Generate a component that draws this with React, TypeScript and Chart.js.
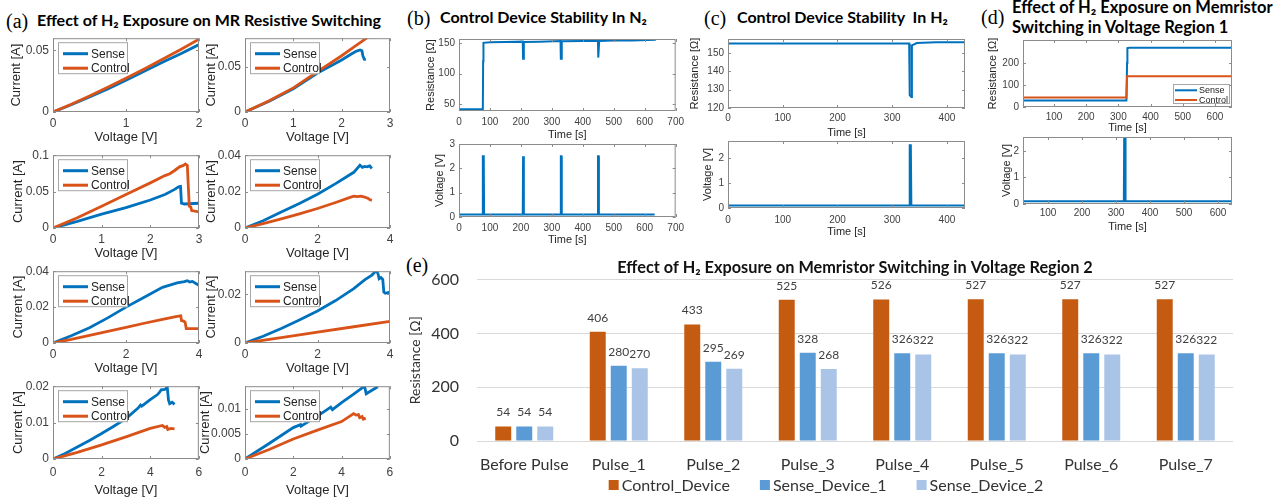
import React, { useEffect, useRef } from "react";
import { Chart, registerables } from "chart.js";

Chart.register(...registerables);

const BLUE = "#0072BD";
const ORANGE = "#D95319";
const AXIS = "#8c8c8c";
const TICK_TXT = "#404040";
const LABEL_TXT = "#262626";
const SANS = '"Liberation Sans", Arial, sans-serif';
const CAL = 'Lato, "DejaVu Sans", sans-serif';

Chart.defaults.font.family = SANS;

type Pt = [number, number];

// ---------------- (a) I-V sweeps ----------------
const a1Sense: Pt[] = [[0, 0], [0.25, 0.0059], [0.5, 0.0122], [0.75, 0.0188], [1, 0.0258], [1.25, 0.0331], [1.5, 0.0405], [1.75, 0.0474], [2, 0.0548]];
const a1Control: Pt[] = [[0, 0], [0.25, 0.0063], [0.5, 0.013], [0.75, 0.0201], [1, 0.0275], [1.25, 0.035], [1.5, 0.0428], [1.75, 0.0508], [2, 0.0592]];
const a2Sense: Pt[] = [[0, 0], [0.5, 0.012], [1, 0.0258], [1.5, 0.0432], [2, 0.0578], [2.2, 0.0645], [2.3, 0.0675], [2.38, 0.069], [2.42, 0.068], [2.44, 0.062], [2.47, 0.0585], [2.5, 0.0585]];
const a2Control: Pt[] = [[0, 0], [0.5, 0.0125], [1, 0.0268], [1.5, 0.0448], [2, 0.0625], [2.25, 0.072], [2.5, 0.0815], [2.55, 0.0835]];
const a3Sense: Pt[] = [[0, 0], [0.5, 0.009], [1, 0.019], [1.5, 0.028], [2, 0.0385], [2.3, 0.046], [2.5, 0.053], [2.58, 0.0565], [2.62, 0.057], [2.64, 0.034], [2.7, 0.033], [3, 0.034]];
const a3Control: Pt[] = [[0, 0], [0.5, 0.014], [1, 0.03], [1.5, 0.046], [2, 0.062], [2.3, 0.072], [2.4, 0.0745], [2.5, 0.079], [2.6, 0.084], [2.68, 0.086], [2.72, 0.088], [2.76, 0.086], [2.8, 0.03], [2.83, 0.029], [2.85, 0.024], [3, 0.022]];
const a4Sense: Pt[] = [[0, 0], [0.5, 0.004], [1, 0.0088], [1.5, 0.0135], [2, 0.0186], [2.5, 0.0244], [3, 0.0306], [3.17, 0.0345], [3.24, 0.0333], [3.3, 0.0338], [3.36, 0.0336], [3.44, 0.0341], [3.5, 0.0327]];
const a4Control: Pt[] = [[0, 0], [0.5, 0.0024], [1, 0.005], [1.5, 0.0078], [2, 0.0107], [2.5, 0.014], [2.9, 0.0168], [3.0, 0.0175], [3.1, 0.0172], [3.2, 0.0175], [3.3, 0.017], [3.4, 0.0162], [3.45, 0.0155], [3.5, 0.0152]];
const a5Sense: Pt[] = [[0, 0], [0.5, 0.004], [1, 0.0085], [1.5, 0.014], [2, 0.02], [2.5, 0.0255], [3, 0.031], [3.4, 0.0335], [3.6, 0.0342], [3.68, 0.0347], [3.75, 0.034], [3.82, 0.0343], [3.9, 0.0333], [4, 0.0322]];
const a5Control: Pt[] = [[0, 0], [0.5, 0.002], [1, 0.0043], [1.5, 0.0065], [2, 0.0087], [2.5, 0.011], [3, 0.0132], [3.4, 0.0148], [3.5, 0.0151], [3.52, 0.0125], [3.58, 0.0122], [3.62, 0.0115], [3.65, 0.008], [3.75, 0.008], [4, 0.008]];
const a6Sense: Pt[] = [[0, 0], [0.5, 0.0028], [1, 0.006], [1.5, 0.0095], [2, 0.0132], [2.5, 0.0175], [3, 0.0224], [3.3, 0.026], [3.5, 0.028], [3.58, 0.0292], [3.63, 0.0297], [3.67, 0.0285], [3.7, 0.0265], [3.75, 0.027], [3.8, 0.0262], [3.83, 0.021], [3.87, 0.0205], [4, 0.021]];
const a6Control: Pt[] = [[0, 0], [1, 0.0022], [2, 0.0045], [3, 0.0067], [4, 0.0089]];
const a7Sense: Pt[] = [[0, 0], [0.5, 0.0015], [1, 0.0033], [1.5, 0.0051], [2, 0.007], [2.5, 0.009], [3, 0.0111], [3.5, 0.014], [3.6, 0.0148], [3.65, 0.0145], [4, 0.0163], [4.3, 0.0177], [4.4, 0.0185], [4.45, 0.019], [4.6, 0.0191], [4.7, 0.0197], [4.75, 0.0162], [4.8, 0.0152], [4.9, 0.0156], [5.0, 0.015]];
const a7Control: Pt[] = [[0, 0], [1, 0.0018], [2, 0.0039], [3, 0.0061], [4, 0.0084], [4.5, 0.0092], [4.6, 0.0087], [4.68, 0.0089], [4.72, 0.0081], [4.85, 0.0084], [5, 0.0083]];
const a8Sense: Pt[] = [[0, 0], [1, 0.0031], [2, 0.0063], [2.3, 0.0069], [2.32, 0.0066], [3, 0.0086], [3.55, 0.0104], [3.62, 0.0099], [4, 0.0113], [4.5, 0.013], [4.95, 0.0146], [5.02, 0.0131], [5.5, 0.0145]];
const a8Control: Pt[] = [[0, 0], [1, 0.0019], [2, 0.004], [3, 0.0058], [4, 0.0075], [4.5, 0.0091], [4.6, 0.0088], [4.7, 0.0089], [4.75, 0.0083], [4.85, 0.0085], [4.9, 0.008], [5, 0.0082]];

const aXTicks2 = [0, 1, 2];
const aXTicks3 = [0, 1, 2, 3];
const aXTicks4 = [0, 2, 4];
const aXTicks6 = [0, 2, 4, 6];
const a1YTicks = [0, 0.05];
const a3YTicks = [0, 0.05, 0.1];
const a4YTicks = [0, 0.02, 0.04];
const a6YTicks = [0, 0.02];
const a7YTicks = [0, 0.01, 0.02];
const a8YTicks = [0, 0.005, 0.01];

// ---------------- (b) control device in N2 ----------------
const bResistance: Pt[] = [[0, 42], [76, 42], [77, 41], [78, 120], [79, 150], [100, 151], [150, 151.5], [206, 152], [207, 124], [209, 124], [210, 151.5], [260, 152], [328, 153], [329, 124], [331, 124], [332, 152.5], [400, 153], [449, 153], [450, 126], [452, 126], [453, 153], [500, 154], [560, 154], [636, 155]];
const bVoltage: Pt[] = [[0, 0.1], [76, 0.1], [77, 2.5], [80, 2.5], [81, 0.1], [206, 0.1], [207, 2.5], [209, 2.5], [210, 0.1], [328, 0.1], [329, 2.5], [331, 2.5], [332, 0.1], [448, 0.1], [449, 2.5], [451, 2.5], [452, 0.1], [632, 0.1]];
const bXTicks = [0, 100, 200, 300, 400, 500, 600, 700];
const bRYTicks = [50, 100, 150];
const bVYTicks = [0, 1, 2, 3];

// ---------------- (c) control device in H2 ----------------
const cResistance: Pt[] = [[0, 155], [331, 155], [332, 127], [335, 126], [336, 154], [345, 155.3], [380, 155.8], [433, 155.8]];
const cVoltage: Pt[] = [[0, 0.1], [331, 0.1], [332, 2.5], [334, 2.5], [335, 0.1], [433, 0.1]];
const cXTicks = [0, 100, 200, 300, 400];
const cRYTicks = [120, 130, 140, 150];
const cVYTicks = [0, 1, 2];

// ---------------- (d) voltage region 1 ----------------
const dSense: Pt[] = [[3, 30], [325, 30], [327, 200], [328, 268], [335, 270], [652, 270]];
const dControl: Pt[] = [[3, 43], [325, 43], [327, 140], [652, 140]];
const dVoltage: Pt[] = [[26, 0.1], [323, 0.1], [324, 2.52], [327, 2.52], [328, 0.1], [640, 0.1]];
const dXTicks = [100, 200, 300, 400, 500, 600];
const dRYTicks = [0, 100, 200];
const dVYTicks = [0, 1, 2];

// ---------------- (e) voltage region 2 bars ----------------
const eCategories = ["Before Pulse", "Pulse_1", "Pulse_2", "Pulse_3", "Pulse_4", "Pulse_5", "Pulse_6", "Pulse_7"];
const eControl = [54, 406, 433, 525, 526, 527, 527, 527];
const eSense1 = [54, 280, 295, 328, 326, 326, 326, 326];
const eSense2 = [54, 270, 269, 268, 322, 322, 322, 322];
const eYTicks = [0, 200, 400, 600];

// ---------------- small MATLAB-style charts ----------------
interface Series { label: string; data: Pt[]; color: string; }
interface LegendSpec { right?: boolean; dx: number; dy: number; w: number; h: number; rows: number[]; l0: number; l1: number; tx: number; font: number; lw: number; }
interface Spec {
  box: [number, number, number, number];
  x: [number, number]; y: [number, number];
  xTicks: number[]; yTicks: number[];
  xTitle: string; yTitle: string;
  tickFont: number; titleFont: number;
  yTitleOff: number; xTickOff: number; xTitleOff: number; yTickGap: number;
  lw: number;
  series: Series[];
  legend?: LegendSpec;
}

const TOPM = 8;
const RIGHTM = 10;

const matlabAxes = {
  id: "matlabAxes",
  afterDatasetsDraw(chart: any, _args: any, opts: any) {
    const { ctx, chartArea: a } = chart;
    const xs = chart.scales.x;
    const ys = chart.scales.y;
    ctx.save();
    ctx.strokeStyle = AXIS;
    ctx.lineWidth = 1;
    ctx.strokeRect(a.left + 0.5, a.top + 0.5, a.right - a.left - 1, a.bottom - a.top - 1);
    const tl = 3;
    ctx.beginPath();
    xs.ticks.forEach((t: any) => {
      const px = Math.round(xs.getPixelForValue(t.value)) + 0.5;
      ctx.moveTo(px, a.bottom); ctx.lineTo(px, a.bottom - tl);
      ctx.moveTo(px, a.top); ctx.lineTo(px, a.top + tl);
    });
    ys.ticks.forEach((t: any) => {
      const py = Math.round(ys.getPixelForValue(t.value)) + 0.5;
      ctx.moveTo(a.left, py); ctx.lineTo(a.left + tl, py);
      ctx.moveTo(a.right, py); ctx.lineTo(a.right - tl, py);
    });
    ctx.stroke();
    const lg: LegendSpec | undefined = opts && opts.legend;
    if (lg) {
      const bx = lg.right ? a.right - lg.dx - lg.w : a.left + lg.dx;
      const by = a.top + lg.dy;
      ctx.fillStyle = "#ffffff";
      ctx.fillRect(bx, by, lg.w, lg.h);
      ctx.strokeStyle = "#a6a6a6";
      ctx.strokeRect(bx + 0.5, by + 0.5, lg.w - 1, lg.h - 1);
      chart.data.datasets.forEach((ds: any, i: number) => {
        const y = by + lg.rows[i];
        ctx.strokeStyle = ds.borderColor;
        ctx.lineWidth = lg.lw;
        ctx.beginPath();
        ctx.moveTo(bx + lg.l0, y);
        ctx.lineTo(bx + lg.l1, y);
        ctx.stroke();
        ctx.fillStyle = "#222";
        ctx.font = `${lg.font}px ${SANS}`;
        ctx.textBaseline = "middle";
        ctx.textAlign = "left";
        ctx.fillText(ds.label, bx + lg.tx, y + 0.5);
      });
    }
    ctx.restore();
  },
};

function geometry(spec: Spec) {
  const lhT = spec.titleFont * 1.2;
  const lhK = spec.tickFont * 1.2;
  const yAxisW = Math.ceil(spec.yTitleOff + lhT / 2 + 1);
  const xAxisH = Math.ceil(spec.xTitleOff + lhT / 2 + 1);
  const [L, T, W, H] = spec.box;
  return {
    yAxisW, xAxisH,
    left: L - yAxisW, top: T - TOPM,
    w: yAxisW + W + RIGHTM, h: TOPM + H + xAxisH,
    yTitlePad: yAxisW - spec.yTitleOff - lhT / 2,
    xTitlePad: xAxisH - spec.xTitleOff - lhT / 2,
    xTickPad: spec.xTickOff - lhK / 2,
  };
}

function SmallChart({ spec }: { spec: Spec }) {
  const ref = useRef<HTMLCanvasElement>(null);
  const g = geometry(spec);
  useEffect(() => {
    const tickFont = { size: spec.tickFont, family: SANS };
    const titleFont = { size: spec.titleFont, family: SANS };
    const chart = new Chart(ref.current as HTMLCanvasElement, {
      type: "line",
      data: {
        datasets: spec.series.map((s, i) => ({
          label: s.label,
          data: s.data.map(([x, y]) => ({ x, y })),
          borderColor: s.color,
          backgroundColor: s.color,
          borderWidth: spec.lw,
          pointRadius: 0,
          tension: 0,
          fill: false,
          clip: 0,
          order: spec.series.length - i,
        })),
      },
      options: {
        responsive: false,
        animation: false,
        events: [],
        layout: { padding: { left: 0, top: TOPM, right: RIGHTM, bottom: 0 } },
        plugins: {
          legend: { display: false },
          tooltip: { enabled: false },
          matlabAxes: { legend: spec.legend },
        } as any,
        scales: {
          x: {
            type: "linear",
            min: spec.x[0],
            max: spec.x[1],
            afterBuildTicks: (s: any) => { s.ticks = spec.xTicks.map((v) => ({ value: v })); },
            afterFit: (s: any) => { s.height = g.xAxisH; },
            grid: { display: false, drawTicks: false },
            border: { display: false },
            ticks: { autoSkip: false, maxRotation: 0, padding: g.xTickPad, font: tickFont, color: TICK_TXT, callback: (v: any) => String(v) },
            title: { display: true, text: spec.xTitle, color: LABEL_TXT, font: titleFont, padding: { top: 0, bottom: g.xTitlePad } },
          },
          y: {
            type: "linear",
            min: spec.y[0],
            max: spec.y[1],
            afterBuildTicks: (s: any) => { s.ticks = spec.yTicks.map((v) => ({ value: v })); },
            afterFit: (s: any) => { s.width = g.yAxisW; },
            grid: { display: false, drawTicks: false },
            border: { display: false },
            ticks: { autoSkip: false, padding: spec.yTickGap, font: tickFont, color: TICK_TXT, callback: (v: any) => String(v) },
            title: { display: true, text: spec.yTitle, color: LABEL_TXT, font: titleFont, padding: { top: g.yTitlePad, bottom: 0 } },
          },
        },
      } as any,
      plugins: [matlabAxes as any],
    });
    return () => chart.destroy();
  }, []);
  return (
    <canvas
      ref={ref}
      width={g.w}
      height={g.h}
      style={{ position: "absolute", left: g.left, top: g.top, width: g.w, height: g.h }}
    />
  );
}

const A_LEGEND: LegendSpec = { dx: 5, dy: 4, w: 70, h: 32, rows: [11.5, 26], l0: 5, l1: 30, tx: 33, font: 12, lw: 3 };
const D_LEGEND: LegendSpec = { right: true, dx: 2, dy: 44, w: 57, h: 20, rows: [6.3, 16], l0: 2, l1: 24, tx: 26, font: 9, lw: 2 };

function aSpec(box: [number, number, number, number], x: [number, number], y: [number, number], xTicks: number[], yTicks: number[], sense: Pt[], control: Pt[], lastRow: boolean, yTitleOff: number): Spec {
  return {
    box, x, y, xTicks, yTicks,
    xTitle: "Voltage [V]", yTitle: "Current [A]",
    tickFont: 12, titleFont: 13,
    yTitleOff, xTickOff: lastRow ? 14 : 12, xTitleOff: lastRow ? 31 : 25, yTickGap: 4,
    lw: 2.8,
    series: [
      { label: "Sense", data: sense, color: BLUE },
      { label: "Control", data: control, color: ORANGE },
    ],
    legend: A_LEGEND,
  };
}

const specs: Spec[] = [
  aSpec([53, 35, 146, 77], [0, 2], [0, 0.06], aXTicks2, a1YTicks, a1Sense, a1Control, false, 37),
  aSpec([245, 35, 145, 77], [0, 3], [0, 0.082], aXTicks3, a1YTicks, a2Sense, a2Control, false, 34),
  aSpec([53, 152, 146, 76], [0, 3], [0, 0.1], aXTicks3, a3YTicks, a3Sense, a3Control, false, 35),
  aSpec([245, 152, 145, 76], [0, 4], [0, 0.04], aXTicks4, a4YTicks, a4Sense, a4Control, false, 34),
  aSpec([53, 268, 146, 75], [0, 4], [0, 0.04], aXTicks4, a4YTicks, a5Sense, a5Control, false, 35),
  aSpec([245, 268, 145, 75], [0, 4], [0, 0.0296], aXTicks4, a6YTicks, a6Sense, a6Control, false, 34),
  aSpec([53, 383, 146, 76], [0, 6], [0, 0.02], aXTicks6, a7YTicks, a7Sense, a7Control, true, 35),
  aSpec([245, 383, 145, 76], [0, 6], [0, 0.0146], aXTicks6, a8YTicks, a8Sense, a8Control, true, 40),
  {
    box: [459, 37, 220, 74], x: [0, 700], y: [39, 156.3], xTicks: bXTicks, yTicks: bRYTicks,
    xTitle: "Time [s]", yTitle: "Resistance [Ω]", tickFont: 10, titleFont: 11,
    yTitleOff: 28, xTickOff: 11, xTitleOff: 24, yTickGap: 4, lw: 2,
    series: [{ label: "Resistance", data: bResistance, color: BLUE }],
  },
  {
    box: [459, 142, 220, 75], x: [0, 700], y: [0, 3], xTicks: bXTicks, yTicks: bVYTicks,
    xTitle: "Time [s]", yTitle: "Voltage [V]", tickFont: 10, titleFont: 11,
    yTitleOff: 19, xTickOff: 11, xTitleOff: 23, yTickGap: 4, lw: 2,
    series: [{ label: "Voltage", data: bVoltage, color: BLUE }],
  },
  {
    box: [728, 37, 237, 71], x: [0, 433], y: [120, 157.5], xTicks: cXTicks, yTicks: cRYTicks,
    xTitle: "Time [s]", yTitle: "Resistance [Ω]", tickFont: 10, titleFont: 11,
    yTitleOff: 33, xTickOff: 10, xTitleOff: 25, yTickGap: 4, lw: 2,
    series: [{ label: "Resistance", data: cResistance, color: BLUE }],
  },
  {
    box: [728, 139, 237, 69], x: [0, 433], y: [0, 2.67], xTicks: cXTicks, yTicks: cVYTicks,
    xTitle: "Time [s]", yTitle: "Voltage [V]", tickFont: 10, titleFont: 11,
    yTitleOff: 20, xTickOff: 12, xTitleOff: 24, yTickGap: 4, lw: 2,
    series: [{ label: "Voltage", data: cVoltage, color: BLUE }],
  },
  {
    box: [1023, 38, 209, 69], x: [3.7, 653], y: [0, 305], xTicks: dXTicks, yTicks: dRYTicks,
    xTitle: "Time [s]", yTitle: "Resistance [Ω]", tickFont: 10, titleFont: 11,
    yTitleOff: 30, xTickOff: 10, xTitleOff: 21, yTickGap: 4, lw: 2,
    series: [
      { label: "Sense", data: dSense, color: BLUE },
      { label: "Control", data: dControl, color: ORANGE },
    ],
    legend: D_LEGEND,
  },
  {
    box: [1023, 135, 209, 69], x: [26.5, 641], y: [0, 2.52], xTicks: dXTicks, yTicks: dVYTicks,
    xTitle: "Time [s]", yTitle: "Voltage [V]", tickFont: 10, titleFont: 11,
    yTitleOff: 16, xTickOff: 9, xTitleOff: 23, yTickGap: 4, lw: 2,
    series: [{ label: "Voltage", data: dVoltage, color: BLUE }],
  },
];

// ---------------- (e) bar chart ----------------
const barLabels = {
  id: "barLabels",
  afterDatasetsDraw(chart: any) {
    const { ctx } = chart;
    ctx.save();
    ctx.font = `12px ${CAL}`;
    ctx.fillStyle = "#404040";
    ctx.textAlign = "center";
    ctx.textBaseline = "middle";
    chart.data.datasets.forEach((ds: any, i: number) => {
      chart.getDatasetMeta(i).data.forEach((el: any, j: number) => {
        ctx.fillText(String(ds.data[j]), el.x, el.y - 14);
      });
    });
    ctx.restore();
  },
};

const barLegend = {
  id: "barLegend",
  afterDraw(chart: any) {
    const { ctx, chartArea: a } = chart;
    ctx.save();
    ctx.font = `16px ${CAL}`;
    const items = chart.data.datasets.map((ds: any) => ({
      text: ds.label,
      color: ds.backgroundColor,
      w: 10 + 3 + ctx.measureText(ds.label).width,
    }));
    const gap = 30;
    const total = items.reduce((s: number, it: any) => s + it.w, 0) + gap * (items.length - 1);
    let x = (a.left + a.right) / 2 - 29 - total / 2;
    const y = a.bottom + 44;
    items.forEach((it: any) => {
      ctx.fillStyle = it.color;
      ctx.fillRect(x, y - 5, 10, 10);
      ctx.fillStyle = "#333";
      ctx.textBaseline = "middle";
      ctx.textAlign = "left";
      ctx.fillText(it.text, x + 13, y + 1);
      x += it.w + gap;
    });
    ctx.restore();
  },
};

const E_LEFT = 400;
const E_TOP = 252;
const E_W = 880;
const E_H = 247;

function BarChart() {
  const ref = useRef<HTMLCanvasElement>(null);
  useEffect(() => {
    const chart = new Chart(ref.current as HTMLCanvasElement, {
      type: "bar",
      data: {
        labels: eCategories,
        datasets: [
          { label: "Control_Device", data: eControl, backgroundColor: "#C55A11" },
          { label: "Sense_Device_1", data: eSense1, backgroundColor: "#5B9BD5" },
          { label: "Sense_Device_2", data: eSense2, backgroundColor: "#A9C4E6" },
        ],
      },
      options: {
        responsive: false,
        animation: false,
        events: [],
        layout: { padding: { left: 0, top: 0, right: 47, bottom: 0 } },
        datasets: { bar: { categoryPercentage: 0.667, barPercentage: 0.76 } },
        plugins: {
          legend: { display: false },
          tooltip: { enabled: false },
          title: {
            display: true,
            fullSize: false,
            text: "Effect of H₂ Exposure on Memristor Switching in Voltage Region 2",
            color: "#111",
            font: { family: CAL, size: 16.3, weight: "bold" },
            padding: { top: 5, bottom: 2.4 },
          },
        },
        scales: {
          x: {
            grid: { display: false, drawTicks: false },
            border: { display: false },
            afterFit: (s: any) => { s.height = 58; },
            ticks: { font: { family: CAL, size: 16 }, color: "#333", padding: 14.4, maxRotation: 0, autoSkip: false },
          },
          y: {
            min: 0,
            max: 600,
            afterBuildTicks: (s: any) => { s.ticks = eYTicks.map((v) => ({ value: v })); },
            afterFit: (s: any) => { s.width = 77; },
            grid: { color: "#d9d9d9", lineWidth: 1, drawTicks: false },
            border: { display: false },
            ticks: { font: { family: CAL, size: 16 }, color: "#333", padding: 18 },
            title: { display: true, text: "Resistance [Ω]", color: "#333", font: { family: CAL, size: 14 }, padding: { top: 6.6, bottom: 0 } },
          },
        },
      } as any,
      plugins: [barLabels as any, barLegend as any],
    });
    return () => chart.destroy();
  }, []);
  return (
    <canvas
      ref={ref}
      width={E_W}
      height={E_H}
      style={{ position: "absolute", left: E_LEFT, top: E_TOP, width: E_W, height: E_H }}
    />
  );
}

// ---------------- text labels ----------------
function Txt({ x, y, size, bold, serif, children }: { x: number; y: number; size: number; bold?: boolean; serif?: boolean; children: React.ReactNode }) {
  return (
    <div
      style={{
        position: "absolute",
        left: x,
        top: y - size * 0.6,
        fontSize: size,
        lineHeight: `${size * 1.2}px`,
        fontFamily: serif ? '"Liberation Serif", "Times New Roman", serif' : CAL,
        fontWeight: bold ? 700 : 400,
        whiteSpace: "pre",
        color: "#000",
      }}
    >
      {children}
    </div>
  );
}

export default function App() {
  return (
    <div style={{ position: "absolute", left: 0, top: 0, width: 1280, height: 499, overflow: "hidden", background: "#fff" }}>
      <Txt x={6} y={21} size={20} serif>(a)</Txt>
      <Txt x={37} y={20} size={16} bold>Effect of H₂ Exposure on MR Resistive Switching</Txt>
      <Txt x={407} y={18} size={20} serif>(b)</Txt>
      <Txt x={440} y={17} size={16} bold>Control Device Stability In N₂</Txt>
      <Txt x={704} y={18} size={20} serif>(c)</Txt>
      <Txt x={737} y={17} size={16} bold>Control Device Stability  In H₂</Txt>
      <Txt x={981} y={17} size={20} serif>(d)</Txt>
      <Txt x={1012} y={8} size={16.5} bold>Effect of H₂ Exposure on Memristor</Txt>
      <Txt x={1012} y={28} size={16.5} bold>Switching in Voltage Region 1</Txt>
      <Txt x={406} y={265} size={20} serif>(e)</Txt>
      {specs.map((s, i) => (
        <SmallChart key={i} spec={s} />
      ))}
      <BarChart />
    </div>
  );
}
